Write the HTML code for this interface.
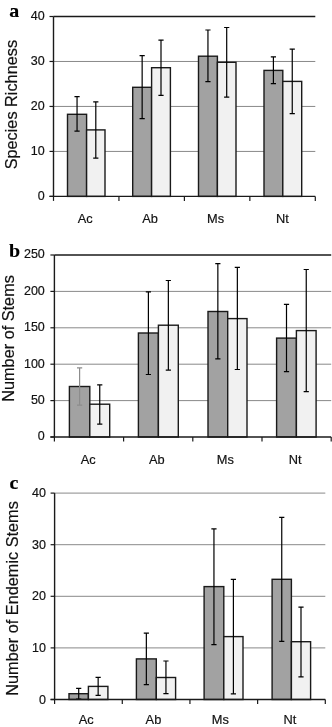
<!DOCTYPE html>
<html><head><meta charset="utf-8"><style>
html,body{margin:0;padding:0;background:#fff;width:332px;height:727px;overflow:hidden}
svg{display:block;will-change:transform}
text{font-family:'Liberation Sans', sans-serif;fill:#111;stroke:#111;stroke-width:0.18px}
.lt{font-family:'Liberation Serif', serif;font-weight:bold;font-size:18.5px;stroke:#000;stroke-width:0.15px;fill:#000}
</style></head><body>
<svg width="332" height="727" viewBox="0 0 332 727">
<line x1="53.5" y1="151.43" x2="315.3" y2="151.43" stroke="#7c7c7c" stroke-width="0.9"/>
<line x1="53.5" y1="106.45" x2="315.3" y2="106.45" stroke="#7c7c7c" stroke-width="0.9"/>
<line x1="53.5" y1="61.47" x2="315.3" y2="61.47" stroke="#7c7c7c" stroke-width="0.9"/>
<line x1="53.5" y1="16.5" x2="315.3" y2="16.5" stroke="#1a1a1a" stroke-width="1.4"/>
<rect x="67.5" y="114.3" width="19.1" height="82.1" fill="#a2a2a2" stroke="#1a1a1a" stroke-width="1.4"/>
<rect x="86.6" y="129.9" width="18.4" height="66.5" fill="#f1f1f1" stroke="#1a1a1a" stroke-width="1.4"/>
<rect x="132.7" y="87.3" width="18.9" height="109.1" fill="#a2a2a2" stroke="#1a1a1a" stroke-width="1.4"/>
<rect x="151.6" y="67.7" width="18.8" height="128.7" fill="#f1f1f1" stroke="#1a1a1a" stroke-width="1.4"/>
<rect x="198.5" y="56.2" width="18.9" height="140.2" fill="#a2a2a2" stroke="#1a1a1a" stroke-width="1.4"/>
<rect x="217.4" y="62.3" width="18.6" height="134.1" fill="#f1f1f1" stroke="#1a1a1a" stroke-width="1.4"/>
<rect x="264" y="70.4" width="18.8" height="126" fill="#a2a2a2" stroke="#1a1a1a" stroke-width="1.4"/>
<rect x="282.8" y="81.4" width="18.9" height="115" fill="#f1f1f1" stroke="#1a1a1a" stroke-width="1.4"/>
<path d="M77.05 96.7V131.2M74.45 96.7H79.65M74.45 131.2H79.65" stroke="#000" stroke-width="1.2" fill="none"/>
<path d="M95.8 101.8V158.2M93.2 101.8H98.4M93.2 158.2H98.4" stroke="#000" stroke-width="1.2" fill="none"/>
<path d="M142.15 55.7V118.6M139.55 55.7H144.75M139.55 118.6H144.75" stroke="#000" stroke-width="1.2" fill="none"/>
<path d="M161 40.2V95.3M158.4 40.2H163.6M158.4 95.3H163.6" stroke="#000" stroke-width="1.2" fill="none"/>
<path d="M207.95 30V81.6M205.35 30H210.55M205.35 81.6H210.55" stroke="#000" stroke-width="1.2" fill="none"/>
<path d="M226.7 27.5V97.1M224.1 27.5H229.3M224.1 97.1H229.3" stroke="#000" stroke-width="1.2" fill="none"/>
<path d="M273.4 56.8V83.6M270.8 56.8H276M270.8 83.6H276" stroke="#000" stroke-width="1.2" fill="none"/>
<path d="M292.25 49.1V113.7M289.65 49.1H294.85M289.65 113.7H294.85" stroke="#000" stroke-width="1.2" fill="none"/>
<line x1="53.5" y1="16.5" x2="53.5" y2="196.4" stroke="#1a1a1a" stroke-width="1.4"/>
<line x1="49.5" y1="196.4" x2="315.3" y2="196.4" stroke="#1a1a1a" stroke-width="1.4"/>
<line x1="49.5" y1="196.4" x2="53.5" y2="196.4" stroke="#1a1a1a" stroke-width="1.2"/>
<line x1="49.5" y1="151.43" x2="53.5" y2="151.43" stroke="#1a1a1a" stroke-width="1.2"/>
<line x1="49.5" y1="106.45" x2="53.5" y2="106.45" stroke="#1a1a1a" stroke-width="1.2"/>
<line x1="49.5" y1="61.47" x2="53.5" y2="61.47" stroke="#1a1a1a" stroke-width="1.2"/>
<line x1="49.5" y1="16.5" x2="53.5" y2="16.5" stroke="#1a1a1a" stroke-width="1.2"/>
<line x1="53.5" y1="196.4" x2="53.5" y2="200.9" stroke="#1a1a1a" stroke-width="1.2"/>
<line x1="118.95" y1="196.4" x2="118.95" y2="200.9" stroke="#1a1a1a" stroke-width="1.2"/>
<line x1="184.4" y1="196.4" x2="184.4" y2="200.9" stroke="#1a1a1a" stroke-width="1.2"/>
<line x1="249.85" y1="196.4" x2="249.85" y2="200.9" stroke="#1a1a1a" stroke-width="1.2"/>
<line x1="315.3" y1="196.4" x2="315.3" y2="200.9" stroke="#1a1a1a" stroke-width="1.2"/>
<text x="44.6" y="200.1" text-anchor="end" font-size="12.5">0</text>
<text x="44.6" y="155.12" text-anchor="end" font-size="12.5">10</text>
<text x="44.6" y="110.15" text-anchor="end" font-size="12.5">20</text>
<text x="44.6" y="65.17" text-anchor="end" font-size="12.5">30</text>
<text x="44.6" y="20.2" text-anchor="end" font-size="12.5">40</text>
<text x="85.1" y="222.6" text-anchor="middle" font-size="12.8">Ac</text>
<text x="150.05" y="222.6" text-anchor="middle" font-size="12.8">Ab</text>
<text x="215.6" y="222.6" text-anchor="middle" font-size="12.8">Ms</text>
<text x="282.45" y="222.6" text-anchor="middle" font-size="12.8">Nt</text>
<text transform="translate(16.6 104.65) rotate(-90)" text-anchor="middle" font-size="16.3">Species Richness</text>
<text transform="translate(9.3 17.2) scale(1.08 1)" class="lt">a</text>
<line x1="54.4" y1="400.6" x2="331.2" y2="400.6" stroke="#7c7c7c" stroke-width="0.9"/>
<line x1="54.4" y1="364.2" x2="331.2" y2="364.2" stroke="#7c7c7c" stroke-width="0.9"/>
<line x1="54.4" y1="327.8" x2="331.2" y2="327.8" stroke="#7c7c7c" stroke-width="0.9"/>
<line x1="54.4" y1="291.4" x2="331.2" y2="291.4" stroke="#7c7c7c" stroke-width="0.9"/>
<line x1="54.4" y1="255" x2="331.2" y2="255" stroke="#1a1a1a" stroke-width="1.4"/>
<rect x="69.4" y="386.5" width="20.4" height="50.5" fill="#a2a2a2" stroke="#1a1a1a" stroke-width="1.4"/>
<rect x="89.8" y="404.2" width="19.9" height="32.8" fill="#f1f1f1" stroke="#1a1a1a" stroke-width="1.4"/>
<rect x="138.4" y="333" width="20" height="104" fill="#a2a2a2" stroke="#1a1a1a" stroke-width="1.4"/>
<rect x="158.4" y="325.2" width="19.9" height="111.8" fill="#f1f1f1" stroke="#1a1a1a" stroke-width="1.4"/>
<rect x="208" y="311.5" width="19.7" height="125.5" fill="#a2a2a2" stroke="#1a1a1a" stroke-width="1.4"/>
<rect x="227.7" y="318.6" width="19.3" height="118.4" fill="#f1f1f1" stroke="#1a1a1a" stroke-width="1.4"/>
<rect x="276.6" y="338.1" width="19.8" height="98.9" fill="#a2a2a2" stroke="#1a1a1a" stroke-width="1.4"/>
<rect x="296.4" y="330.6" width="19.7" height="106.4" fill="#f1f1f1" stroke="#1a1a1a" stroke-width="1.4"/>
<path d="M79.6 367.8V405.2M77 367.8H82.2M77 405.2H82.2" stroke="#8c8c8c" stroke-width="1.2" fill="none"/>
<path d="M99.75 384.9V424.1M97.15 384.9H102.35M97.15 424.1H102.35" stroke="#000" stroke-width="1.2" fill="none"/>
<path d="M148.4 291.9V374.5M145.8 291.9H151M145.8 374.5H151" stroke="#000" stroke-width="1.2" fill="none"/>
<path d="M168.35 280.5V370.2M165.75 280.5H170.95M165.75 370.2H170.95" stroke="#000" stroke-width="1.2" fill="none"/>
<path d="M217.85 263.7V358.9M215.25 263.7H220.45M215.25 358.9H220.45" stroke="#000" stroke-width="1.2" fill="none"/>
<path d="M237.35 267.3V369.5M234.75 267.3H239.95M234.75 369.5H239.95" stroke="#000" stroke-width="1.2" fill="none"/>
<path d="M286.5 304.4V371.7M283.9 304.4H289.1M283.9 371.7H289.1" stroke="#000" stroke-width="1.2" fill="none"/>
<path d="M306.25 269.5V391.7M303.65 269.5H308.85M303.65 391.7H308.85" stroke="#000" stroke-width="1.2" fill="none"/>
<line x1="54.4" y1="255" x2="54.4" y2="437" stroke="#1a1a1a" stroke-width="1.4"/>
<line x1="50.4" y1="437" x2="331.2" y2="437" stroke="#1a1a1a" stroke-width="1.4"/>
<line x1="50.4" y1="437" x2="54.4" y2="437" stroke="#1a1a1a" stroke-width="1.2"/>
<line x1="50.4" y1="400.6" x2="54.4" y2="400.6" stroke="#1a1a1a" stroke-width="1.2"/>
<line x1="50.4" y1="364.2" x2="54.4" y2="364.2" stroke="#1a1a1a" stroke-width="1.2"/>
<line x1="50.4" y1="327.8" x2="54.4" y2="327.8" stroke="#1a1a1a" stroke-width="1.2"/>
<line x1="50.4" y1="291.4" x2="54.4" y2="291.4" stroke="#1a1a1a" stroke-width="1.2"/>
<line x1="50.4" y1="255" x2="54.4" y2="255" stroke="#1a1a1a" stroke-width="1.2"/>
<line x1="54.4" y1="437" x2="54.4" y2="441.5" stroke="#1a1a1a" stroke-width="1.2"/>
<line x1="123.6" y1="437" x2="123.6" y2="441.5" stroke="#1a1a1a" stroke-width="1.2"/>
<line x1="192.8" y1="437" x2="192.8" y2="441.5" stroke="#1a1a1a" stroke-width="1.2"/>
<line x1="262" y1="437" x2="262" y2="441.5" stroke="#1a1a1a" stroke-width="1.2"/>
<line x1="331.2" y1="437" x2="331.2" y2="441.5" stroke="#1a1a1a" stroke-width="1.2"/>
<text x="44.8" y="440.4" text-anchor="end" font-size="12.5">0</text>
<text x="44.8" y="404" text-anchor="end" font-size="12.5">50</text>
<text x="44.8" y="367.6" text-anchor="end" font-size="12.5">100</text>
<text x="44.8" y="331.2" text-anchor="end" font-size="12.5">150</text>
<text x="44.8" y="294.8" text-anchor="end" font-size="12.5">200</text>
<text x="44.8" y="258.4" text-anchor="end" font-size="12.5">250</text>
<text x="88.3" y="463.8" text-anchor="middle" font-size="12.8">Ac</text>
<text x="156.9" y="463.8" text-anchor="middle" font-size="12.8">Ab</text>
<text x="225.25" y="463.8" text-anchor="middle" font-size="12.8">Ms</text>
<text x="295.15" y="463.8" text-anchor="middle" font-size="12.8">Nt</text>
<text transform="translate(13.5 338.45) rotate(-90)" text-anchor="middle" font-size="16.3">Number of Stems</text>
<text transform="translate(9 257.2) scale(1.08 1)" class="lt">b</text>
<line x1="54.6" y1="647.9" x2="325.3" y2="647.9" stroke="#7c7c7c" stroke-width="0.9"/>
<line x1="54.6" y1="596.3" x2="325.3" y2="596.3" stroke="#7c7c7c" stroke-width="0.9"/>
<line x1="54.6" y1="544.7" x2="325.3" y2="544.7" stroke="#7c7c7c" stroke-width="0.9"/>
<line x1="54.6" y1="493.1" x2="325.3" y2="493.1" stroke="#7c7c7c" stroke-width="0.9"/>
<rect x="69" y="693.7" width="19.4" height="5.8" fill="#a2a2a2" stroke="#1a1a1a" stroke-width="1.4"/>
<rect x="88.4" y="686.4" width="19.5" height="13.1" fill="#f1f1f1" stroke="#1a1a1a" stroke-width="1.4"/>
<rect x="136.4" y="658.9" width="19.9" height="40.6" fill="#a2a2a2" stroke="#1a1a1a" stroke-width="1.4"/>
<rect x="156.3" y="677.5" width="19.3" height="22" fill="#f1f1f1" stroke="#1a1a1a" stroke-width="1.4"/>
<rect x="204.1" y="586.6" width="19.7" height="112.9" fill="#a2a2a2" stroke="#1a1a1a" stroke-width="1.4"/>
<rect x="223.8" y="636.6" width="19.2" height="62.9" fill="#f1f1f1" stroke="#1a1a1a" stroke-width="1.4"/>
<rect x="272.1" y="579.3" width="19.3" height="120.2" fill="#a2a2a2" stroke="#1a1a1a" stroke-width="1.4"/>
<rect x="291.4" y="641.7" width="19.2" height="57.8" fill="#f1f1f1" stroke="#1a1a1a" stroke-width="1.4"/>
<path d="M78.7 688.4V699M76.1 688.4H81.3M76.1 699H81.3" stroke="#000" stroke-width="1.2" fill="none"/>
<path d="M98.15 677.4V695.3M95.55 677.4H100.75M95.55 695.3H100.75" stroke="#000" stroke-width="1.2" fill="none"/>
<path d="M146.35 633.2V684.7M143.75 633.2H148.95M143.75 684.7H148.95" stroke="#000" stroke-width="1.2" fill="none"/>
<path d="M165.95 661V693.7M163.35 661H168.55M163.35 693.7H168.55" stroke="#000" stroke-width="1.2" fill="none"/>
<path d="M213.95 528.8V644.7M211.35 528.8H216.55M211.35 644.7H216.55" stroke="#000" stroke-width="1.2" fill="none"/>
<path d="M233.4 579.3V693.9M230.8 579.3H236M230.8 693.9H236" stroke="#000" stroke-width="1.2" fill="none"/>
<path d="M281.75 517.3V641.3M279.15 517.3H284.35M279.15 641.3H284.35" stroke="#000" stroke-width="1.2" fill="none"/>
<path d="M301 607.1V676.8M298.4 607.1H303.6M298.4 676.8H303.6" stroke="#000" stroke-width="1.2" fill="none"/>
<line x1="54.6" y1="493.1" x2="54.6" y2="699.5" stroke="#1a1a1a" stroke-width="1.4"/>
<line x1="50.6" y1="699.5" x2="325.3" y2="699.5" stroke="#1a1a1a" stroke-width="1.4"/>
<line x1="50.6" y1="699.5" x2="54.6" y2="699.5" stroke="#1a1a1a" stroke-width="1.2"/>
<line x1="50.6" y1="647.9" x2="54.6" y2="647.9" stroke="#1a1a1a" stroke-width="1.2"/>
<line x1="50.6" y1="596.3" x2="54.6" y2="596.3" stroke="#1a1a1a" stroke-width="1.2"/>
<line x1="50.6" y1="544.7" x2="54.6" y2="544.7" stroke="#1a1a1a" stroke-width="1.2"/>
<line x1="50.6" y1="493.1" x2="54.6" y2="493.1" stroke="#1a1a1a" stroke-width="1.2"/>
<line x1="54.6" y1="699.5" x2="54.6" y2="704" stroke="#1a1a1a" stroke-width="1.2"/>
<line x1="122.28" y1="699.5" x2="122.28" y2="704" stroke="#1a1a1a" stroke-width="1.2"/>
<line x1="189.95" y1="699.5" x2="189.95" y2="704" stroke="#1a1a1a" stroke-width="1.2"/>
<line x1="257.62" y1="699.5" x2="257.62" y2="704" stroke="#1a1a1a" stroke-width="1.2"/>
<line x1="325.3" y1="699.5" x2="325.3" y2="704" stroke="#1a1a1a" stroke-width="1.2"/>
<text x="45.9" y="703.6" text-anchor="end" font-size="12.5">0</text>
<text x="45.9" y="652" text-anchor="end" font-size="12.5">10</text>
<text x="45.9" y="600.4" text-anchor="end" font-size="12.5">20</text>
<text x="45.9" y="548.8" text-anchor="end" font-size="12.5">30</text>
<text x="45.9" y="497.2" text-anchor="end" font-size="12.5">40</text>
<text x="86.15" y="723.5" text-anchor="middle" font-size="12.8">Ac</text>
<text x="153.45" y="723.5" text-anchor="middle" font-size="12.8">Ab</text>
<text x="220.25" y="723.5" text-anchor="middle" font-size="12.8">Ms</text>
<text x="290" y="723.5" text-anchor="middle" font-size="12.8">Nt</text>
<text transform="translate(17.9 598.45) rotate(-90)" text-anchor="middle" font-size="16.3">Number of Endemic Stems</text>
<text transform="translate(9.4 488.6) scale(1.08 1)" class="lt">c</text>
</svg>
</body></html>
